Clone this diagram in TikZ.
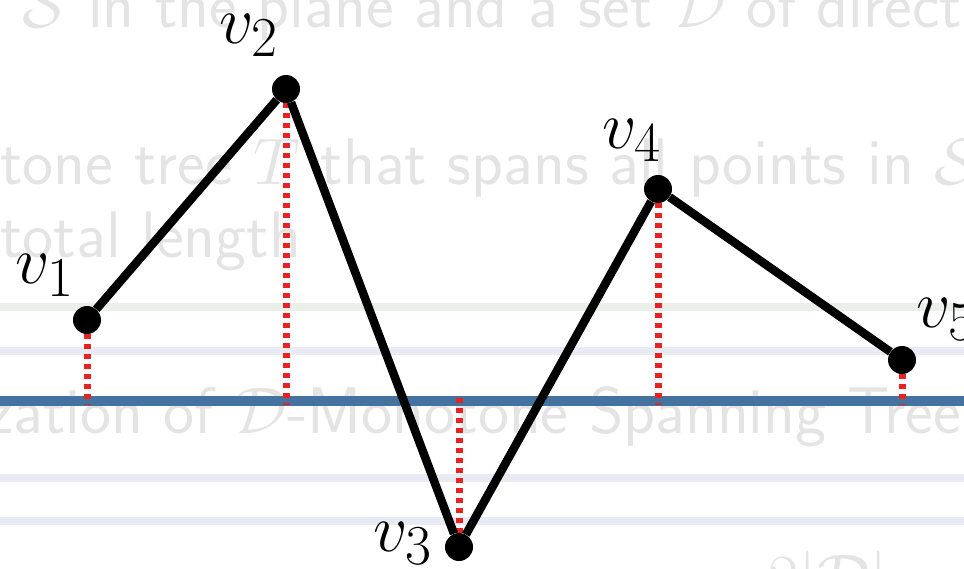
\documentclass[tikz,border=0pt]{standalone}
\definecolor{axisblue}{HTML}{4573A0}
\definecolor{projred}{HTML}{E62222}
\definecolor{bandblue}{HTML}{E8EBF4}
\definecolor{bandgreen}{HTML}{EAF0E7}
\definecolor{ghost}{HTML}{E4E4E4}
\begin{document}
\begin{tikzpicture}[x=1pt, y=-1pt,
  pt/.style={circle, fill=black, inner sep=0pt, minimum size=28pt},
  edge/.style={line width=8.5pt},
  proj/.style={projred, line width=7pt, dash pattern=on 5pt off 5pt},
  band/.style={line width=8pt},
  vlab/.style={anchor=base west, inner sep=0pt, font=\Huge, scale=2.72},
  ghosttext/.style={anchor=base west, inner sep=0pt, text=ghost, font=\sffamily\Huge, scale=2.65}]
\useasboundingbox (0,0) rectangle (964,568);
\clip (0,0) rectangle (964,568);

% faded slide text behind the figure
\node[ghosttext] (t1) at (22,27) {$\mathcal{S}$ in the plane and a set $\mathcal{D}$ of directions};
\node[ghosttext] (t2) at (0,184) {tone tree $T$ that spans all points in $\mathcal{S}$};
\node[ghosttext] (t3) at (0,257) {total length};
\node[ghosttext] (t4) at (-14,433) {zation of $\mathcal{D}$-Monotone Spanning Tree};
\node[ghosttext] (t5) at (768,600) {$2|\mathcal{D}|-1$};

\draw[band, bandgreen] (0,307) -- (964,307);
\foreach \y in {351,478,521}
  \draw[band, bandblue] (0,\y) -- (964,\y);

\coordinate (L) at (0,401);
\coordinate (R) at (964,401);
\draw[axisblue, line width=10pt] (L) -- (R);

\node[pt] (v1) at (87,320) {};
\node[pt] (v2) at (286,89) {};
\node[pt] (v3) at (459,547) {};
\node[pt] (v4) at (658,189) {};
\node[pt] (v5) at (902,360) {};

% feet on the line
\coordinate (f1) at (87,405);
\coordinate (f2) at (286,405);
\coordinate (f3) at (459,397);
\coordinate (f4) at (658,405);
\coordinate (f5) at (902,405);
\foreach \i in {1,...,5}
  \draw[proj] (v\i) -- (f\i);

\draw[edge] (v1) -- (v2) -- (v3) -- (v4) -- (v5);

\node[vlab] (l1) at (15,283) {$v_1$};
\node[vlab] (l2) at (219,43) {$v_2$};
\node[vlab] (l3) at (373,551) {$v_3$};
\node[vlab] (l4) at (602,148) {$v_4$};
\node[vlab] (l5) at (916,327) {$v_5$};
\end{tikzpicture}
\end{document}
